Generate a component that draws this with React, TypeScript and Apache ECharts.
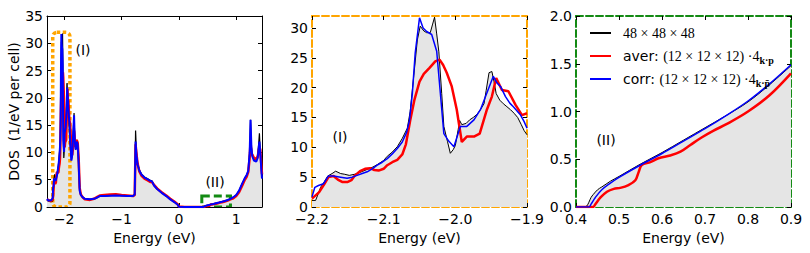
import React, { useEffect, useRef } from 'react';
import * as echarts from 'echarts';

// ---- Zoom region (I): -2.2 .. -1.9 eV ----
const zoomIRef: number[][] = [
  [-2.2, 1.1], [-2.195, 1.1], [-2.192, 2.0], [-2.188, 3.3], [-2.183, 4.2], [-2.178, 5.2], [-2.172, 5.6],
  [-2.167, 6.0], [-2.16, 5.6], [-2.155, 5.5], [-2.148, 5.3], [-2.14, 5.5], [-2.133, 5.8], [-2.123, 6.3],
  [-2.115, 6.7], [-2.109, 7.1], [-2.1, 7.8], [-2.095, 8.5], [-2.088, 9.2], [-2.081, 10.1], [-2.074, 11.5],
  [-2.067, 13.2], [-2.063, 16], [-2.058, 22], [-2.053, 28], [-2.049, 30.3], [-2.044, 29.5], [-2.04, 29.2],
  [-2.035, 29.2], [-2.032, 30.5], [-2.029, 31.8], [-2.026, 29], [-2.023, 26], [-2.019, 19], [-2.016, 13.5],
  [-2.011, 11], [-2.007, 9], [-2.003, 9.6], [-2.0, 10.3], [-1.996, 13], [-1.994, 14.5], [-1.991, 13.8],
  [-1.985, 14], [-1.98, 14.6], [-1.975, 15], [-1.97, 15.5], [-1.965, 16.3], [-1.96, 17.3], [-1.957, 19.5],
  [-1.953, 22.5], [-1.949, 22.7], [-1.946, 21], [-1.943, 19], [-1.938, 17.9], [-1.933, 17.3], [-1.928, 16.8],
  [-1.923, 16.3], [-1.918, 15.7], [-1.913, 15.0], [-1.908, 13.8], [-1.904, 12.8], [-1.9, 12.1],
];
const zoomIAver: number[][] = [
  [-2.2, 1.4], [-2.19, 2.5], [-2.183, 3.8], [-2.177, 5.0], [-2.17, 5.2], [-2.164, 4.6], [-2.158, 4.2],
  [-2.15, 4.2], [-2.145, 4.5], [-2.14, 5.3], [-2.133, 6.0], [-2.126, 6.4], [-2.119, 6.5], [-2.113, 6.2],
  [-2.107, 6.1], [-2.1, 6.4], [-2.095, 7.0], [-2.088, 7.5], [-2.081, 7.9], [-2.074, 8.8], [-2.069, 10.5],
  [-2.063, 14.5], [-2.057, 18], [-2.05, 21], [-2.044, 22.3], [-2.036, 23.3], [-2.028, 24.4], [-2.022, 24.7],
  [-2.017, 23.8], [-2.012, 22.5], [-2.005, 20.2], [-1.998, 16.3], [-1.991, 10.9], [-1.984, 11.8],
  [-1.974, 11.8], [-1.966, 12.3], [-1.956, 16.3], [-1.949, 18.5], [-1.943, 21.6], [-1.935, 19.6],
  [-1.926, 19.4], [-1.916, 17.1], [-1.907, 15.4], [-1.9, 15.7],
];
const zoomICorr: number[][] = [
  [-2.2, 1.7], [-2.196, 3.3], [-2.191, 3.6], [-2.184, 3.9], [-2.177, 5.2], [-2.17, 5.2], [-2.16, 5.0],
  [-2.151, 4.8], [-2.144, 5.0], [-2.137, 5.3], [-2.13, 5.6], [-2.123, 5.9], [-2.116, 6.4], [-2.109, 7.0],
  [-2.102, 7.5], [-2.095, 8.1], [-2.088, 8.9], [-2.081, 9.8], [-2.074, 10.9], [-2.068, 12.5], [-2.064, 14.5],
  [-2.06, 19], [-2.056, 25.8], [-2.05, 31.7], [-2.045, 30], [-2.04, 29.4], [-2.033, 28.9], [-2.026, 26.1],
  [-2.016, 12.3], [-2.009, 11], [-2.002, 10.1], [-1.993, 13.5], [-1.984, 13.5], [-1.974, 14.6],
  [-1.965, 16.3], [-1.956, 19.1], [-1.947, 21.9], [-1.942, 20.8], [-1.937, 20.2], [-1.93, 18.5],
  [-1.924, 17.4], [-1.919, 16.8], [-1.909, 15.4], [-1.904, 14.3], [-1.9, 13.2],
];

// ---- Zoom region (II): 0.4 .. 0.9 eV ----
const zoomIIRef: number[][] = [
  [0.4, 0], [0.42, 0], [0.425, 0.01], [0.43, 0.05], [0.435, 0.1], [0.44, 0.13], [0.45, 0.18], [0.46, 0.21],
  [0.47, 0.24], [0.48, 0.27], [0.5, 0.32], [0.55, 0.45], [0.6, 0.57], [0.65, 0.7], [0.7, 0.83], [0.75, 0.96],
  [0.8, 1.1], [0.85, 1.28], [0.9, 1.48],
];
const zoomIIAver: number[][] = [
  [0.4, 0], [0.44, 0], [0.445, 0.03], [0.457, 0.1], [0.472, 0.16], [0.488, 0.19], [0.503, 0.2], [0.522, 0.23],
  [0.538, 0.28], [0.546, 0.37], [0.553, 0.44], [0.573, 0.47], [0.592, 0.51], [0.619, 0.54], [0.643, 0.58],
  [0.666, 0.65], [0.693, 0.73], [0.72, 0.8], [0.751, 0.87], [0.8, 1.0], [0.85, 1.17], [0.9, 1.4],
];
const zoomIICorr: number[][] = [
  [0.4, 0], [0.43, 0], [0.435, 0.03], [0.445, 0.1], [0.46, 0.18], [0.48, 0.25], [0.5, 0.31], [0.55, 0.44],
  [0.6, 0.56], [0.65, 0.69], [0.7, 0.82], [0.75, 0.96], [0.8, 1.11], [0.85, 1.29], [0.9, 1.49],
];

// ---- Full range pieces (outside the zoom windows) ----
const leftRef: number[][] = [[-2.3, 1.3], [-2.28, 1.1], [-2.25, 1.0], [-2.22, 1.0]];
const leftAver: number[][] = [[-2.3, 1.4], [-2.28, 1.3], [-2.25, 1.1], [-2.22, 1.2]];
const leftCorr: number[][] = [[-2.3, 1.5], [-2.28, 1.2], [-2.25, 1.2], [-2.22, 1.3]];

const midRef: number[][] = [
  [-1.89, 10.5], [-1.875, 8.6], [-1.86, 9.5], [-1.845, 13], [-1.828, 17.2], [-1.815, 12], [-1.8, 10.5],
  [-1.782, 12.3], [-1.765, 11.5], [-1.748, 8], [-1.73, 3], [-1.71, 2.2], [-1.68, 1.8], [-1.64, 1.5],
  [-1.55, 1.4], [-1.48, 1.5], [-1.43, 1.7], [-1.38, 2.0], [-1.3, 2.0], [-1.2, 2.1], [-1.1, 2.2], [-1.0, 2.1],
  [-0.9, 2.1], [-0.8, 2.0], [-0.77, 2.2], [-0.755, 14], [-0.74, 10], [-0.72, 8], [-0.69, 6.8], [-0.65, 6],
  [-0.6, 5.5], [-0.55, 5.2], [-0.5, 4.9], [-0.47, 4.8], [-0.43, 4.0], [-0.38, 3.4], [-0.3, 2.7], [-0.22, 2.0],
  [-0.15, 1.5], [-0.08, 1.0], [-0.02, 0.5], [0, 0], [0.1, 0], [0.2, 0], [0.3, 0], [0.39, 0],
];
const midAver: number[][] = [
  [-1.89, 14], [-1.875, 10], [-1.86, 9.5], [-1.845, 11], [-1.828, 14], [-1.815, 12.5], [-1.8, 11],
  [-1.782, 12.3], [-1.765, 11.8], [-1.748, 9], [-1.73, 3.5], [-1.71, 2.3], [-1.68, 1.8], [-1.64, 1.4],
  [-1.55, 1.3], [-1.48, 1.5], [-1.43, 1.8], [-1.38, 2.1], [-1.3, 2.2], [-1.2, 2.3], [-1.1, 2.35], [-1.0, 2.2],
  [-0.9, 2.1], [-0.8, 2.0], [-0.77, 2.2], [-0.755, 11.5], [-0.74, 9.8], [-0.72, 8], [-0.69, 6.5], [-0.65, 5.7],
  [-0.6, 5.2], [-0.55, 4.9], [-0.5, 4.6], [-0.47, 4.6], [-0.43, 4.0], [-0.38, 3.4], [-0.3, 2.7], [-0.22, 2.1],
  [-0.15, 1.5], [-0.08, 1.0], [-0.02, 0.5], [0, 0.1], [0.1, 0], [0.2, 0], [0.3, 0], [0.39, 0],
];
const midCorr: number[][] = [
  [-1.89, 11], [-1.875, 8.5], [-1.86, 9.5], [-1.845, 13], [-1.828, 16.8], [-1.815, 12], [-1.8, 10.5],
  [-1.782, 12], [-1.765, 11.5], [-1.748, 8], [-1.73, 3], [-1.71, 2.2], [-1.68, 1.8], [-1.64, 1.5],
  [-1.55, 1.4], [-1.48, 1.5], [-1.43, 1.7], [-1.38, 2.0], [-1.3, 2.0], [-1.2, 2.05], [-1.1, 2.1], [-1.0, 2.05],
  [-0.9, 2.0], [-0.8, 2.0], [-0.77, 2.3], [-0.755, 12], [-0.74, 9.5], [-0.72, 7.8], [-0.69, 6.7], [-0.65, 5.9],
  [-0.6, 5.4], [-0.55, 5.1], [-0.5, 4.8], [-0.47, 4.7], [-0.43, 3.9], [-0.38, 3.3], [-0.3, 2.6], [-0.22, 2.0],
  [-0.15, 1.4], [-0.08, 0.9], [-0.02, 0.4], [0, 0.05], [0.1, 0], [0.2, 0], [0.3, 0], [0.39, 0],
];

const rightRef: number[][] = [
  [0.95, 1.8], [1.0, 2.2], [1.05, 3.0], [1.1, 4.2], [1.15, 5.3], [1.18, 5.8], [1.21, 6.5], [1.235, 10],
  [1.25, 16], [1.265, 11], [1.28, 9.5], [1.31, 8.8], [1.35, 8.6], [1.375, 9.5], [1.395, 12], [1.405, 13.5],
  [1.42, 10], [1.44, 7], [1.45, 5.5],
];
const rightAver: number[][] = [
  [0.95, 1.6], [1.0, 2.0], [1.05, 2.7], [1.1, 3.8], [1.15, 5.0], [1.18, 5.5], [1.21, 6.4], [1.235, 9],
  [1.25, 12], [1.265, 10], [1.28, 9.6], [1.31, 9], [1.35, 8.8], [1.375, 9.2], [1.395, 10.5], [1.405, 11],
  [1.42, 10.5], [1.44, 7.5], [1.45, 6],
];
const rightCorr: number[][] = [
  [0.95, 1.8], [1.0, 2.2], [1.05, 3.0], [1.1, 4.2], [1.15, 5.3], [1.18, 5.8], [1.21, 6.6], [1.235, 10],
  [1.25, 16], [1.265, 11], [1.28, 9.3], [1.31, 8.5], [1.35, 8.3], [1.375, 9], [1.395, 11], [1.405, 12],
  [1.42, 10], [1.44, 6.5], [1.45, 5.2],
];

// zoom window boxes [xmin, ymin, xmax, ymax]
const boxI: number[] = [-2.2, 0, -1.9, 32];
const boxII: number[] = [0.4, 0, 0.9, 2];

// tick values
const p1XTicks = [-2, -1, 0, 1];
const p1YTicks = [0, 5, 10, 15, 20, 25, 30, 35];
const p2XTicks = [-2.2, -2.1, -2.0, -1.9];
const p2YTicks = [0, 5, 10, 15, 20, 25, 30];
const p3XTicks = [0.4, 0.5, 0.6, 0.7, 0.8, 0.9];
const p3YTicks = [0, 0.5, 1.0, 1.5, 2.0];

const NAME_REF = '48 × 48 × 48';
const NAME_AVER = 'aver';
const NAME_CORR = 'corr';

const SANS = 'DejaVu Sans';
const SERIF = 'Liberation Serif';
const ORANGE = '#FFA500';
const GREEN = '#138a13';
const FILL = '#e5e5e5';

export default function App() {
  const ref = useRef<HTMLDivElement>(null);
  useEffect(() => {
    if (!ref.current) return;
    const chart = echarts.init(ref.current, undefined, { renderer: 'svg' });

    const fullRef = [...leftRef, ...zoomIRef, ...midRef, ...zoomIIRef, ...rightRef];
    const fullAver = [...leftAver, ...zoomIAver, ...midAver, ...zoomIIAver, ...rightAver];
    const fullCorr = [...leftCorr, ...zoomICorr, ...midCorr, ...zoomIICorr, ...rightCorr];

    const grids = [
      { left: 47, top: 16, width: 215, height: 191 },
      { left: 312, top: 16, width: 215, height: 191 },
      { left: 576, top: 16, width: 215, height: 191 },
    ];
    const fmt = (d: number) => (v: number) => Number(v).toFixed(d).replace('-', '\u2212');
    const ranges = [
      { xmin: -2.3, xmax: 1.45, ymin: 0, ymax: 35, xt: p1XTicks, yt: p1YTicks, xd: 0, yd: 0, line: { color: '#000', width: 1, type: 'solid' as any } },
      { xmin: -2.2, xmax: -1.9, ymin: 0, ymax: 32, xt: p2XTicks, yt: p2YTicks, xd: 1, yd: 0, line: { color: ORANGE, width: 2, type: [7, 3] as any } },
      { xmin: 0.4, xmax: 0.9, ymin: 0, ymax: 2, xt: p3XTicks, yt: p3YTicks, xd: 1, yd: 1, line: { color: GREEN, width: 2, type: [7, 3] as any } },
    ];
    const tick = (vals: number[]) => ({ show: true, inside: true, length: 4, customValues: vals, lineStyle: { color: '#000', width: 1 } });
    const xAxis: any[] = [];
    const yAxis: any[] = [];
    ranges.forEach((r, i) => {
      xAxis.push({
        type: 'value', gridIndex: i, min: r.xmin, max: r.xmax, position: 'bottom',
        name: 'Energy (eV)', nameLocation: 'middle', nameGap: 22,
        nameTextStyle: { fontFamily: SANS, fontSize: 14, color: '#000' },
        axisLine: { show: true, onZero: false, lineStyle: r.line },
        axisTick: tick(r.xt), splitLine: { show: false },
        axisLabel: { show: true, customValues: r.xt, formatter: fmt(r.xd), margin: 5, lineHeight: 14, fontFamily: SANS, fontSize: 14, color: '#000' },
      });
      yAxis.push({
        type: 'value', gridIndex: i, min: r.ymin, max: r.ymax, position: 'left',
        name: i === 0 ? 'DOS  (1/eV per cell)' : '', nameLocation: 'middle', nameGap: 26,
        nameTextStyle: { fontFamily: SANS, fontSize: 14, color: '#000' },
        axisLine: { show: true, onZero: false, lineStyle: r.line },
        axisTick: tick(r.yt), splitLine: { show: false },
        axisLabel: { show: true, customValues: r.yt, formatter: fmt(r.yd), margin: 4, lineHeight: 10, fontFamily: SANS, fontSize: 14, color: '#000' },
      });
    });
    ranges.forEach((r, i) => {
      xAxis.push({
        type: 'value', gridIndex: i, min: r.xmin, max: r.xmax, position: 'top',
        axisLine: { show: true, onZero: false, lineStyle: r.line },
        axisTick: tick(r.xt), axisLabel: { show: false }, splitLine: { show: false },
      });
      yAxis.push({
        type: 'value', gridIndex: i, min: r.ymin, max: r.ymax, position: 'right',
        axisLine: { show: true, onZero: false, lineStyle: r.line },
        axisTick: tick(r.yt), axisLabel: { show: false }, splitLine: { show: false },
      });
    });

    const panelData = [
      { ref: fullRef, aver: fullAver, corr: fullCorr, w: [1.2, 2.5, 2], smooth: false as any },
      { ref: zoomIRef, aver: zoomIAver, corr: zoomICorr, w: [1, 2.5, 1.5], smooth: false as any },
      { ref: zoomIIRef, aver: zoomIIAver, corr: zoomIICorr, w: [1, 2.5, 1.5], smooth: 0.35 as any },
    ];
    const series: any[] = [];
    panelData.forEach((p, i) => {
      const base = { type: 'line', xAxisIndex: i, yAxisIndex: i, showSymbol: false, symbol: 'none', silent: true, clip: true, smooth: p.smooth };
      series.push({ ...base, name: 'fill', data: p.ref, z: 1, lineStyle: { width: 0, opacity: 0 }, areaStyle: { color: FILL, opacity: 1 } });
      series.push({ ...base, name: NAME_REF, data: p.ref, z: 3, lineStyle: { color: '#000', width: p.w[0] }, itemStyle: { color: '#000' } });
      series.push({ ...base, name: NAME_AVER, data: p.aver, z: 3, lineStyle: { color: '#ff0000', width: p.w[1] }, itemStyle: { color: '#ff0000' } });
      series.push({ ...base, name: NAME_CORR, data: p.corr, z: 3, lineStyle: { color: '#0000ff', width: p.w[2] }, itemStyle: { color: '#0000ff' } });
    });
    const boxSeries = (box: number[], color: string, dash: number[], lw: number, r: number) => ({
      type: 'custom', xAxisIndex: 0, yAxisIndex: 0, z: 2, silent: true, clip: true,
      data: [box],
      renderItem: (_params: any, api: any) => {
        const a = api.coord([api.value(0), api.value(1)]);
        const b = api.coord([api.value(2), api.value(3)]);
        return {
          type: 'rect',
          shape: { x: a[0], y: b[1], width: b[0] - a[0], height: a[1] - b[1], r },
          style: { fill: 'none', stroke: color, lineWidth: lw, lineDash: dash },
        };
      },
    });
    series.push(boxSeries(boxI, ORANGE, [3.5, 2.5], 3.5, 4));
    series.push(boxSeries(boxII, GREEN, [8, 4], 3, 0));

    const legendLabels: Record<string, string> = {
      [NAME_REF]: '{m|48 × 48 × 48}',
      [NAME_AVER]: '{s|aver: }{m|(12 × 12 × 12) ·4}{b|k·p}',
      [NAME_CORR]: '{s|corr: }{m|(12 × 12 × 12) ·4}{b|k·p\u0304}',
    };

    chart.setOption({
      animation: false,
      backgroundColor: '#fff',
      grid: grids,
      xAxis, yAxis, series,
      legend: {
        data: [NAME_REF, NAME_AVER, NAME_CORR],
        orient: 'vertical', left: 589, top: 23, padding: 0,
        itemWidth: 21, itemHeight: 12, itemGap: 3, selectedMode: false,
        itemStyle: { opacity: 0, borderWidth: 0 },
        formatter: (name: string) => legendLabels[name] || name,
        textStyle: {
          color: '#000', padding: [0, 0, 0, 7],
          rich: {
            m: { fontFamily: SERIF, fontSize: 14, height: 20, lineHeight: 20, color: '#000' },
            s: { fontFamily: SANS, fontSize: 14, height: 20, lineHeight: 20, color: '#000' },
            b: { fontFamily: SERIF, fontSize: 10, fontWeight: 'bold', lineHeight: 20, padding: [8, 0, 0, 0], color: '#000' },
          },
        },
      },
      graphic: [
        { type: 'text', x: 83, y: 50, style: { text: '(I)', font: `14px "${SANS}"`, fill: '#000', align: 'center', verticalAlign: 'middle' } },
        { type: 'text', x: 215, y: 182, style: { text: '(II)', font: `14px "${SANS}"`, fill: '#000', align: 'center', verticalAlign: 'middle' } },
        { type: 'text', x: 340, y: 137, style: { text: '(I)', font: `14px "${SANS}"`, fill: '#000', align: 'center', verticalAlign: 'middle' } },
        { type: 'text', x: 606, y: 140, style: { text: '(II)', font: `14px "${SANS}"`, fill: '#000', align: 'center', verticalAlign: 'middle' } },
      ],
    });
    return () => chart.dispose();
  }, []);
  return <div ref={ref} style={{ position: 'fixed', left: 0, top: 0, width: 810, height: 253 }} />;
}
